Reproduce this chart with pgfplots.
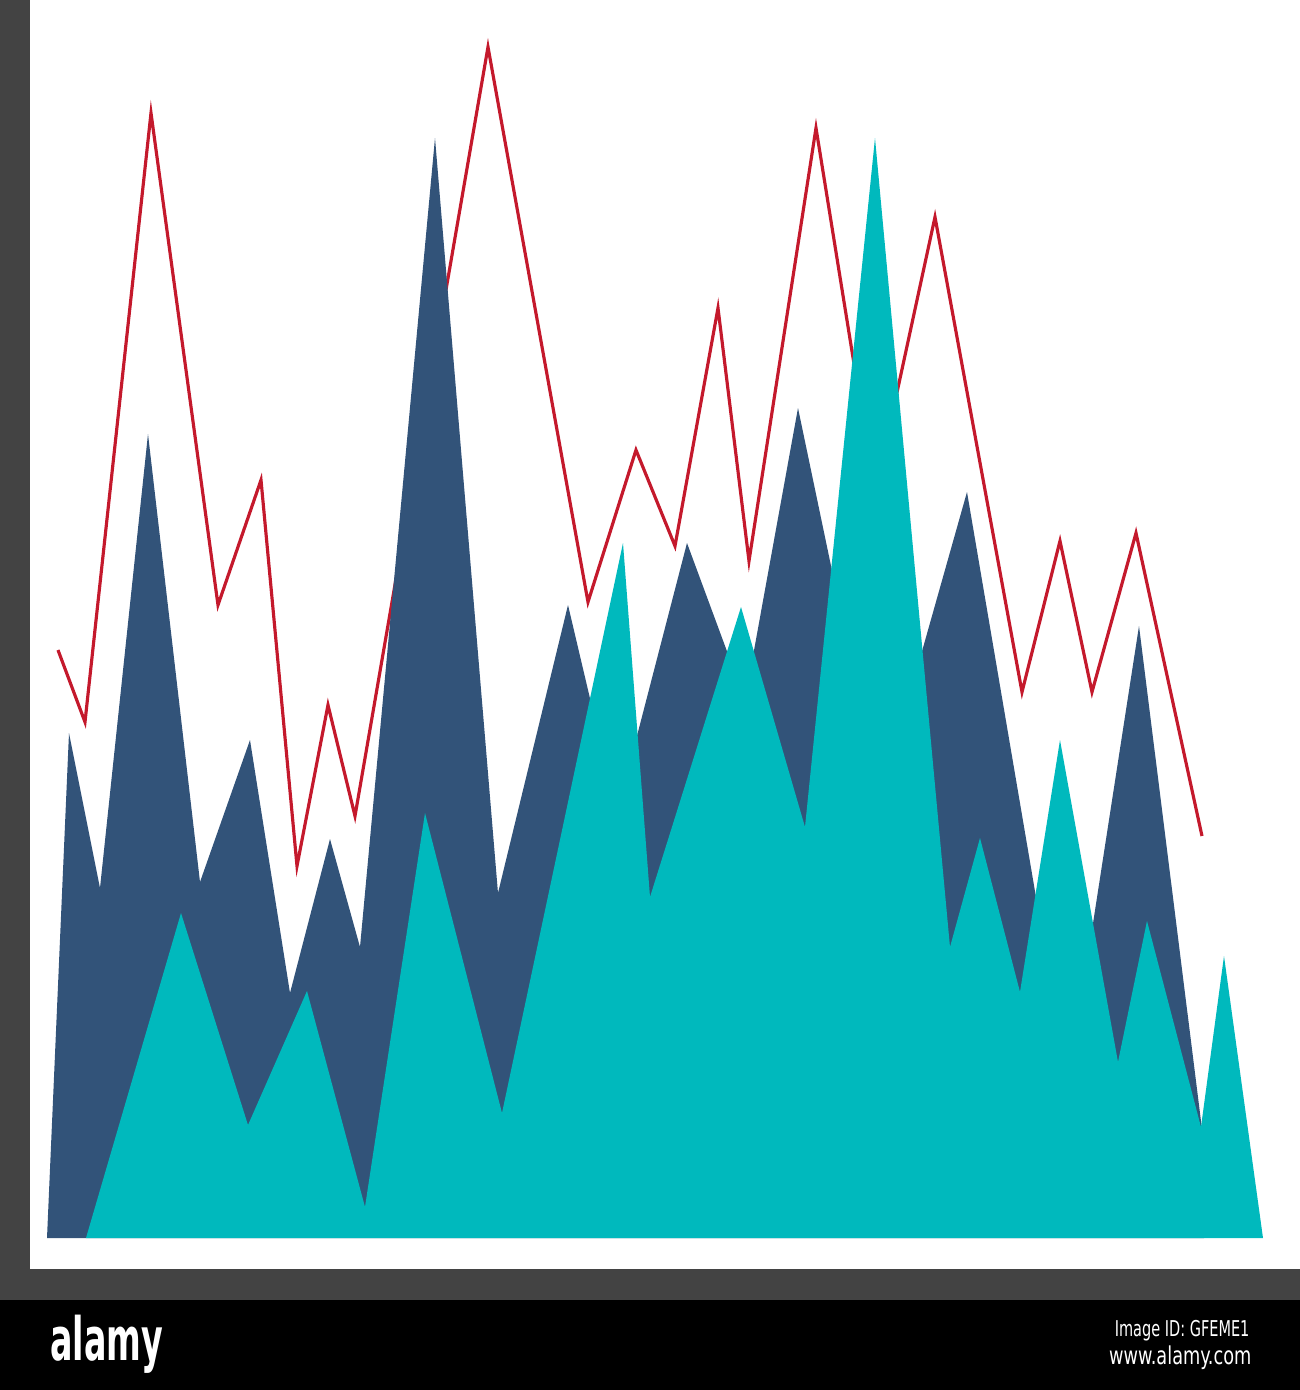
\documentclass[border=0pt]{standalone}
\usepackage{pgfplots}
\pgfplotsset{compat=1.18}
\usepackage{fontspec}
\setmainfont{DejaVu Sans Condensed}

\definecolor{navy}{HTML}{325379}
\definecolor{aqua}{HTML}{00B9BD}
\definecolor{crimson}{HTML}{C4192C}
\definecolor{frame}{HTML}{434343}

\begin{document}
\begin{tikzpicture}
\begin{axis}[
    scale only axis,
    width=13cm, height=13.9cm,
    xmin=0, xmax=1300, ymin=0, ymax=1390,
    y dir=reverse,
    axis lines=none,
    clip=false,
]
% page area
\path (axis cs:0,0) rectangle (axis cs:1300,1390);

% red line (drawn first, the areas cover it)
\addplot[crimson, line width=0.9pt, line join=miter, mark=none] coordinates {
    (58,650) (85,722) (151,113) (218,605) (261,480) (297,866) (328,705)
    (355,816) (488,47) (588,602) (636,450) (675,546) (718,308)
    (749,561) (816,128) (875,494) (935,217) (1022,692) (1060,541)
    (1092,692) (1136,533) (1202,836)
};

% dark blue area
\addplot[fill=navy, draw=none, mark=none] coordinates {
    (47,1238) (69,733) (100,888) (148,434) (200,882) (250,740) (290,993)
    (330,839) (360,947) (435,138) (498,893) (568,605) (617,813) (687,543)
    (745,700) (798,408) (880,800) (967,492) (1068,1085) (1139,626)
    (1204,1145) (1204,1238)
} -- cycle;

% teal area
\addplot[fill=aqua, draw=none, mark=none] coordinates {
    (86,1238) (181,913) (248,1125) (307,991) (365,1207) (425,813)
    (502,1113) (623,543) (650,897) (741,607) (805,827) (875,138)
    (950,947) (980,838) (1020,992) (1060,740) (1118,1062) (1147,921)
    (1201,1127) (1224,956) (1263,1238)
} -- cycle;

% L-shaped axis bars
\fill[frame] (axis cs:0,0) rectangle (axis cs:30,1300);
\fill[frame] (axis cs:0,1269) rectangle (axis cs:1300,1300);

% bottom band
\fill[black] (axis cs:0,1300) rectangle (axis cs:1300,1390);
\node[anchor=west, white, inner sep=0pt,
      font=\fontsize{17}{17}\selectfont\bfseries, xscale=0.62]
    at (axis cs:50,1344) {alamy};
\node[anchor=east, white, inner sep=0pt,
      font=\fontsize{6.2}{6.2}\selectfont, xscale=0.74]
    at (axis cs:1250,1331) {Image ID: GFEME1};
\node[anchor=east, white, inner sep=0pt,
      font=\fontsize{7}{7}\selectfont, xscale=0.8]
    at (axis cs:1252,1358) {www.alamy.com};
\end{axis}
\end{tikzpicture}
\end{document}
